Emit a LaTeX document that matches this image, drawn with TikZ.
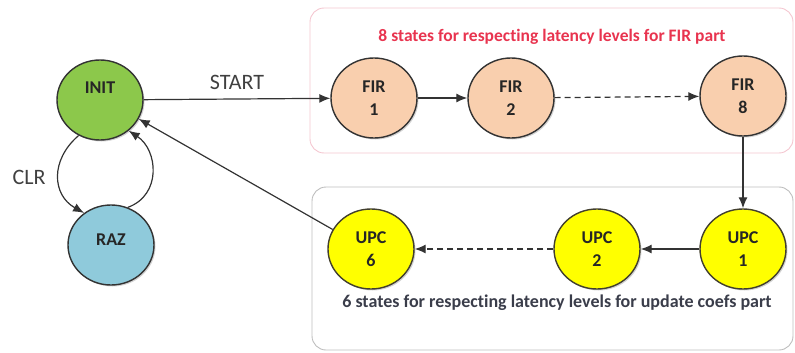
\documentclass[tikz,border=0pt]{standalone}
\usepackage{fontspec}
\setmainfont[Ligatures={NoCommon}]{Carlito}
\usetikzlibrary{shapes.geometric,arrows.meta,shadows}
\definecolor{initgreen}{HTML}{8CC84B}
\definecolor{razblue}{HTML}{8FCADB}
\definecolor{firpeach}{HTML}{F9CFAE}
\definecolor{upcyellow}{HTML}{FFFF00}
\definecolor{titlered}{HTML}{E8344F}
\definecolor{boxpink}{HTML}{F4C6D0}
\definecolor{boxgray}{HTML}{BDBDBD}
\definecolor{notetext}{HTML}{3A3D4A}
\tikzset{
  fsmstate/.style={ellipse, draw=black!80, line width=1.4pt,
    minimum width=86pt, minimum height=80pt, inner sep=0pt, align=center,
    font=\bfseries\fontsize{18}{23}\selectfont, text=black!85,
    drop shadow={shadow xshift=1.5pt, shadow yshift=-1.5pt, opacity=0.35}},
  statelbl/.style={font=\bfseries\fontsize{18}{23}\selectfont, text=black!85},
  arr/.style={draw=black!80, line width=1.2pt, -{Latex[length=11pt,width=9pt]}},
  dasharr/.style={arr, dash pattern=on 6pt off 4pt},
  groupbox/.style={rounded corners=14pt, line width=0.9pt},
}
\begin{document}
\begin{tikzpicture}[x=1pt,y=-1pt]
\useasboundingbox (0,0) rectangle (795,353);

% group frames
\draw[groupbox, draw=boxpink] (310,8) rectangle (793,153);
\draw[groupbox, draw=boxgray] (312,187) rectangle (793,350);

% states
\node[fsmstate, fill=initgreen] (init) at (100,100) {};
\node[statelbl] (initlbl) at (100,88) {INIT};
\node[fsmstate, fill=razblue] (raz) at (111,245) {};
\node[statelbl] (razlbl) at (111,240) {RAZ};
\node[fsmstate, fill=firpeach] (fir1) at (374,98) {FIR\\1};
\node[fsmstate, fill=firpeach] (fir2) at (511,98) {FIR\\2};
\node[fsmstate, fill=firpeach] (fir8) at (743,96) {FIR\\8};
\node[fsmstate, fill=upcyellow, draw=black!70!olive] (upc1) at (743,249) {UPC\\1};
\node[fsmstate, fill=upcyellow, draw=black!70!olive] (upc2) at (597,249) {UPC\\2};
\node[fsmstate, fill=upcyellow, draw=black!70!olive] (upc6) at (371,249) {UPC\\6};

% group captions
\node[font=\bfseries\fontsize{17.5}{19}\selectfont, text=titlered] (firnote) at (552,37)
  {8 states for respecting latency levels for FIR part};
\node[font=\bfseries\fontsize{18}{20}\selectfont, text=notetext] (upcnote) at (557,303)
  {6 states for respecting latency levels for update coefs part};

% transitions
\draw[arr] (init) -- node[above=5pt, font=\fontsize{22}{24}\selectfont, text=black!75] (startlbl) {START} (fir1);
\draw[arr] (fir1) -- (fir2);
\draw[dasharr] (fir2) -- (fir8);
\draw[arr] (fir8) -- (upc1);
\draw[arr] (upc1) -- (upc2);
\draw[dasharr] (upc2) -- (upc6);
\draw[arr] (upc6.153) -- (init.-26);
\draw[arr] (init.239) .. controls (50,160) and (52,195) .. (raz.130);
\draw[arr] (raz.66) .. controls (162,195) and (158,150) .. (init.-47);
\node[font=\fontsize{22}{24}\selectfont, text=black!75] (clr) at (29,177) {CLR};
\end{tikzpicture}
\end{document}
